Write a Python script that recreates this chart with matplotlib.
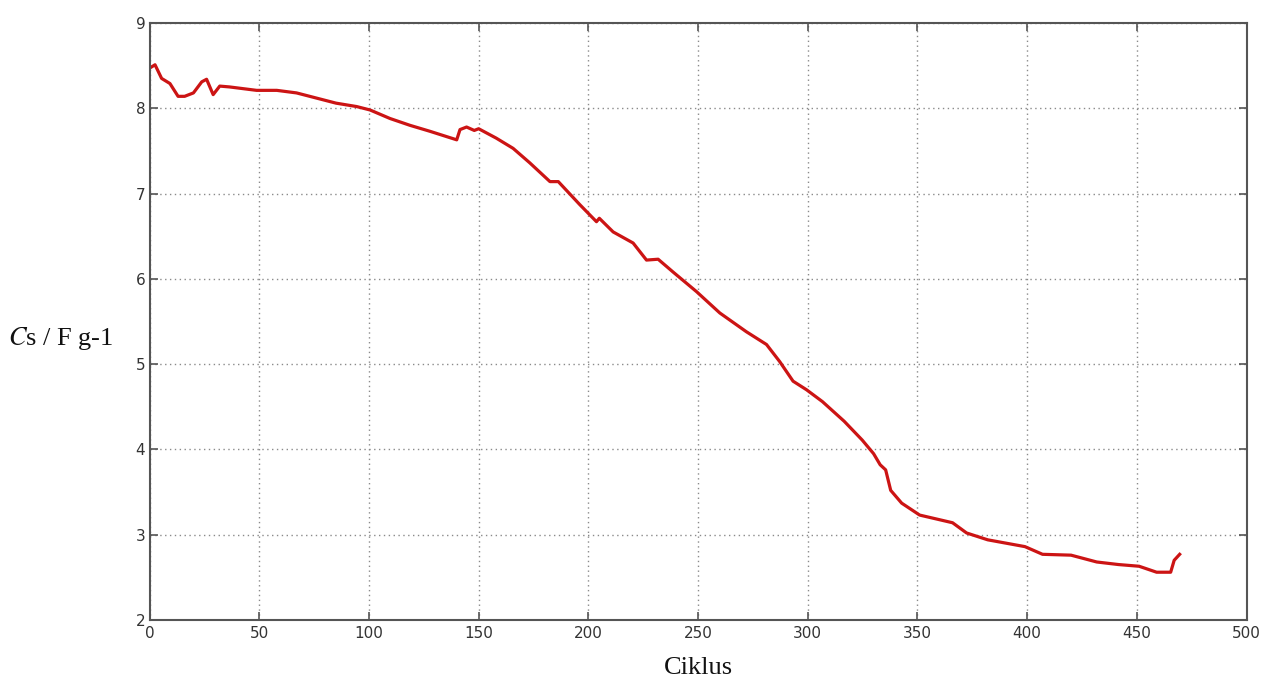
import matplotlib
matplotlib.use("Agg")
import matplotlib.pyplot as plt

cycles = [0, 2.5, 5.5, 9.3, 13, 16, 20, 23.8, 26, 29, 32, 36.5, 48.8, 58, 67, 76,
          85, 94.4, 100.5, 109.6, 118.7, 127.8, 140, 141.5, 144.5, 148, 150, 158,
          165.7, 173.3, 182.5, 186.3, 196.1, 203.7, 205, 211.3, 220.4, 226.5, 231.8,
          238.6, 249.3, 259.9, 272, 281.2, 287.2, 293.3, 299.4, 306.7, 316.6, 324.8,
          330, 333, 335.5, 337.8, 342.8, 351, 366, 372.4, 382, 399, 407, 420, 431.7,
          441.6, 451, 459, 465.4, 467, 469.5]
capacitance = [8.47, 8.51, 8.35, 8.29, 8.14, 8.14, 8.18, 8.31, 8.34, 8.16, 8.26, 8.25,
               8.21, 8.21, 8.18, 8.12, 8.06, 8.02, 7.98, 7.88, 7.80, 7.73, 7.63, 7.75,
               7.78, 7.74, 7.76, 7.65, 7.53, 7.36, 7.14, 7.14, 6.87, 6.67, 6.71, 6.55,
               6.42, 6.22, 6.23, 6.08, 5.85, 5.60, 5.38, 5.23, 5.03, 4.80, 4.70, 4.56,
               4.33, 4.11, 3.95, 3.82, 3.76, 3.52, 3.37, 3.23, 3.14, 3.02, 2.94, 2.86,
               2.77, 2.76, 2.68, 2.65, 2.63, 2.56, 2.56, 2.70, 2.77]

xticks = [0, 50, 100, 150, 200, 250, 300, 350, 400, 450, 500]
yticks = [2, 3, 4, 5, 6, 7, 8, 9]

plt.rcParams['mathtext.fontset'] = 'stix'

fig = plt.figure(figsize=(12.63, 6.84), dpi=100)
ax = fig.add_axes([0.1184, 0.0936, 0.8686, 0.8728])

ax.plot(cycles, capacitance, color='#cc1414', linewidth=2.3, solid_joinstyle='round')

ax.set_xlim(0, 500)
ax.set_ylim(2, 9)
ax.set_xticks(xticks)
ax.set_yticks(yticks)
ax.grid(True, linestyle=(0, (1, 2.5)), color='#8a8a8a', linewidth=1.0)
ax.tick_params(direction='in', top=True, right=True, length=6, width=1.2,
               colors='#555555', labelcolor='#333333', labelsize=11, pad=4)
ax.tick_params(axis='y', pad=3)
for s in ax.spines.values():
    s.set_color('#555555')
    s.set_linewidth(1.5)

ax.set_xlabel('Ciklus', family='Liberation Serif', fontsize=19, color='#111111', labelpad=12)
fig.text(0.006, 0.505, r'$C$s / F g-1', family='Liberation Serif', fontsize=19,
         color='#111111', ha='left', va='center')

fig.savefig('out.png', dpi=100, facecolor='white')
